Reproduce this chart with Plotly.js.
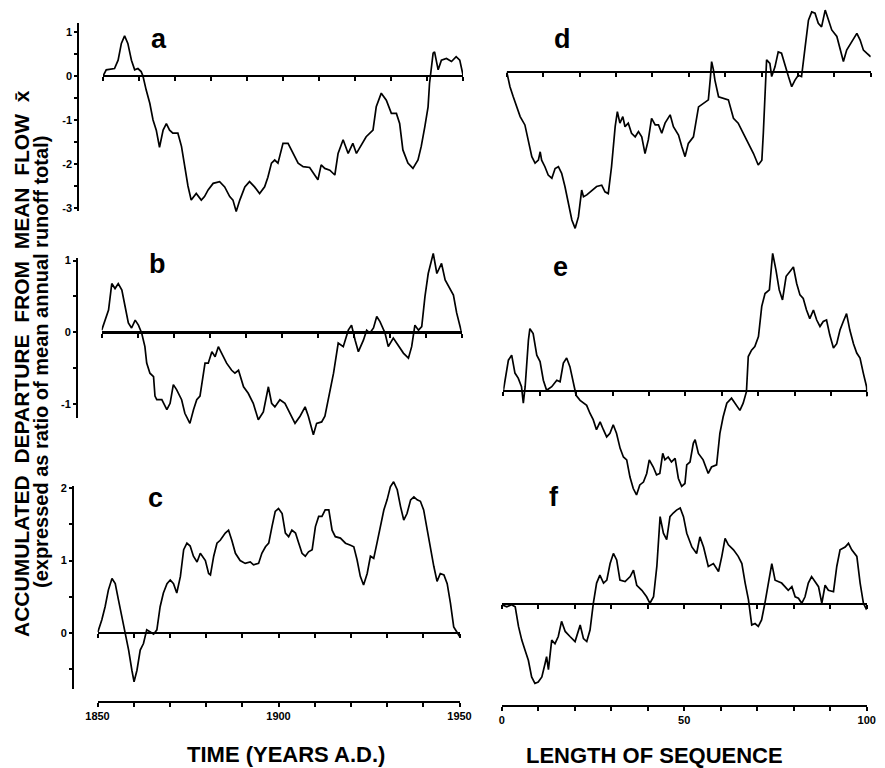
<!DOCTYPE html>
<html><head><meta charset="utf-8">
<script src="https://cdn.plot.ly/plotly-3.0.1.min.js"></script>
<style>html,body{margin:0;padding:0;background:#fff}#chart{width:885px;height:768px}</style>
</head><body><div id="chart"></div>
<script>
// ---------- DATA ----------
const yearsA = [1850.0,1850.9,1853.2,1854.2,1855.1,1856.0,1856.9,1857.9,1858.8,1859.7,1860.6,1861.1,1862.0,1863.0,1863.9,1864.8,1865.7,1866.7,1867.6,1868.5,1869.4,1870.8,1871.8,1872.7,1873.6,1874.5,1875.9,1877.3,1878.2,1879.2,1880.6,1882.4,1883.8,1885.2,1886.1,1887.0,1888.0,1889.4,1890.7,1892.1,1893.5,1894.9,1895.8,1896.8,1897.7,1898.6,1900.0,1901.4,1902.8,1904.2,1905.6,1907.4,1908.8,1909.7,1910.6,1911.6,1913.0,1914.4,1915.3,1916.7,1918.1,1919.4,1920.4,1921.8,1923.1,1925.0,1925.9,1927.3,1928.7,1930.1,1931.5,1932.4,1933.3,1934.7,1936.1,1937.5,1938.4,1939.4,1940.3,1940.7,1941.2,1941.7,1942.1,1943.1,1944.0,1945.4,1946.8,1948.1,1949.1,1950.0];
const valuesA = [0,0.14,0.17,0.36,0.74,0.91,0.74,0.36,0.14,0.17,0.10,0,-0.32,-0.62,-1.0,-1.23,-1.62,-1.23,-1.08,-1.23,-1.3,-1.3,-1.6,-2.06,-2.5,-2.82,-2.67,-2.82,-2.74,-2.59,-2.44,-2.4,-2.52,-2.74,-2.82,-3.08,-2.82,-2.52,-2.4,-2.52,-2.67,-2.52,-2.3,-1.98,-1.91,-1.98,-1.53,-1.53,-1.76,-1.98,-2.06,-2.08,-2.25,-2.36,-2.02,-2.1,-2.14,-2.25,-1.76,-1.45,-1.76,-1.53,-1.76,-1.55,-1.38,-1.23,-0.7,-0.39,-0.55,-0.85,-0.85,-1.08,-1.68,-1.98,-2.1,-1.91,-1.6,-1.15,-0.7,-0.17,0.21,0.52,0.55,0.14,0.36,0.40,0.33,0.44,0.36,0.02];

const yearsB = [1850.0,1850.9,1851.9,1852.8,1853.7,1854.6,1855.6,1856.5,1857.4,1858.3,1859.3,1860.2,1861.1,1862.0,1862.5,1863.4,1864.4,1864.8,1865.3,1866.7,1868.1,1869.0,1869.9,1870.8,1872.2,1873.1,1874.5,1875.5,1876.4,1877.3,1877.8,1878.7,1879.6,1880.6,1881.5,1882.4,1883.3,1884.7,1886.1,1887.0,1888.0,1889.4,1890.7,1892.1,1893.5,1894.9,1896.3,1897.2,1898.1,1899.5,1900.9,1902.3,1903.7,1905.1,1906.5,1907.4,1908.8,1909.7,1911.1,1912.0,1913.0,1914.4,1915.7,1917.1,1918.5,1919.4,1920.4,1921.3,1922.7,1923.6,1924.5,1925.5,1926.4,1927.3,1928.7,1929.6,1931.0,1932.4,1933.8,1935.2,1936.1,1937.0,1938.0,1938.9,1939.8,1940.7,1942.1,1943.1,1944.0,1944.4,1945.4,1946.8,1947.7,1948.6,1950.0];
const valuesB = [0.03,0.17,0.31,0.68,0.61,0.68,0.59,0.36,0.13,0.06,0.17,0.10,-0.01,-0.2,-0.43,-0.57,-0.62,-0.89,-0.94,-0.94,-1.08,-0.99,-0.73,-0.8,-0.94,-1.13,-1.27,-1.08,-0.94,-0.89,-0.71,-0.43,-0.43,-0.27,-0.34,-0.2,-0.29,-0.43,-0.53,-0.57,-0.53,-0.76,-0.85,-0.99,-1.22,-1.11,-0.76,-0.99,-1.04,-0.94,-0.99,-1.13,-1.27,-1.17,-1.04,-1.17,-1.43,-1.27,-1.25,-1.17,-0.94,-0.57,-0.15,-0.2,0.03,0.10,-0.11,-0.27,-0.11,0.03,-0.01,0.06,0.22,0.15,-0.01,-0.2,-0.08,-0.18,-0.29,-0.36,-0.2,0.10,0.03,0.08,0.5,0.82,1.10,0.82,0.92,0.96,0.73,0.59,0.52,0.27,-0.01];

const yearsC = [1850.1,1851.2,1852.1,1853.0,1854.0,1854.9,1855.8,1856.7,1857.6,1858.6,1859.5,1860.1,1860.9,1861.8,1862.7,1863.6,1864.6,1865.5,1866.4,1867.3,1868.2,1869.2,1870.1,1871.0,1871.9,1872.9,1873.8,1874.7,1875.6,1876.5,1877.5,1878.4,1879.8,1880.7,1881.2,1882.1,1883.0,1883.9,1885.3,1886.2,1887.1,1888.1,1889.4,1890.8,1892.2,1893.1,1894.5,1895.4,1896.4,1897.3,1898.2,1899.1,1900.0,1901.0,1901.9,1902.8,1903.7,1904.7,1905.6,1906.5,1907.4,1908.3,1909.3,1910.2,1911.1,1912.0,1912.9,1913.9,1914.8,1915.7,1917.1,1918.5,1919.9,1920.8,1921.7,1922.6,1923.5,1924.5,1925.4,1926.3,1927.2,1928.2,1929.1,1930.0,1930.9,1931.8,1932.8,1933.7,1934.6,1935.5,1936.5,1937.4,1938.3,1939.2,1940.1,1941.1,1942.0,1942.9,1943.8,1944.7,1945.7,1946.6,1947.5,1948.4,1949.4,1950.0];
const valuesC = [0.01,0.18,0.36,0.59,0.75,0.68,0.45,0.22,0.04,-0.24,-0.52,-0.68,-0.52,-0.24,-0.15,0.04,0.01,-0.02,0.04,0.36,0.55,0.68,0.73,0.68,0.55,0.78,1.15,1.24,1.2,1.06,0.98,1.1,1.0,0.82,0.8,1.06,1.24,1.28,1.38,1.42,1.28,1.1,1.0,0.96,0.98,0.94,0.96,1.1,1.19,1.24,1.47,1.68,1.72,1.65,1.38,1.33,1.42,1.38,1.24,1.1,1.06,1.12,1.15,1.47,1.61,1.61,1.7,1.7,1.42,1.33,1.31,1.24,1.21,1.19,1.01,0.78,0.66,0.82,1.06,1.03,1.24,1.49,1.7,1.84,2.02,2.09,1.98,1.75,1.56,1.65,1.84,1.88,1.84,1.82,1.7,1.42,1.15,0.92,0.71,0.82,0.8,0.68,0.41,0.08,0,-0.05];

const seqD = [0,0.9,1.8,2.7,3.7,5.0,6.0,6.9,7.8,8.7,9.2,9.6,10.5,11.4,12.4,13.3,14.2,15.1,16.0,16.9,17.9,18.8,19.7,20.6,21.1,22.0,23.4,24.7,26.1,27.0,27.9,28.8,29.8,30.4,31.1,31.9,32.5,33.4,34.3,35.3,36.2,37.1,38.0,38.9,39.8,40.8,41.7,42.6,43.5,44.9,45.8,47.2,48.1,49.0,49.9,51.3,52.7,54.0,55.4,55.9,56.3,56.8,57.2,58.2,59.5,60.9,62.3,63.6,65.0,66.4,67.8,69.1,70.1,70.5,71.0,71.4,72.3,72.8,73.7,74.6,75.5,76.5,77.4,78.3,79.2,80.1,81.0,82.0,82.9,83.8,84.7,85.6,86.5,87.5,88.4,89.3,90.7,91.6,92.5,93.4,94.8,96.2,97.1,98.0,98.9,100.0];
const valuesD = [0,-0.34,-0.57,-0.8,-1.02,-1.21,-1.63,-1.93,-2.08,-2.01,-1.82,-2.01,-2.16,-2.35,-2.42,-2.2,-2.16,-2.31,-2.61,-2.99,-3.37,-3.56,-3.3,-2.69,-2.84,-2.8,-2.69,-2.61,-2.58,-2.73,-2.77,-2.16,-1.25,-0.91,-1.17,-1.02,-1.25,-1.17,-1.4,-1.48,-1.36,-1.48,-1.86,-1.55,-1.06,-1.21,-1.21,-1.4,-1.17,-0.98,-1.25,-1.44,-1.7,-1.93,-1.63,-1.48,-0.8,-0.72,-0.64,-0.19,0.23,0.04,-0.19,-0.57,-0.61,-0.64,-1.06,-1.17,-1.4,-1.63,-1.86,-2.12,-2.01,-1.4,-0.34,0.27,0.19,-0.11,0.11,0.45,0.42,0.11,-0.11,-0.34,-0.19,-0.08,-0.11,0.57,1.17,1.36,1.33,1.1,1.02,1.4,1.17,0.95,0.8,0.49,0.23,0.49,0.68,0.87,0.72,0.49,0.42,0.34];

const seqE = [0,0.5,1.4,2.3,3.2,4.1,5.0,5.5,6.0,6.9,7.3,8.2,9.2,10.1,11.0,11.9,13.3,14.7,15.6,16.5,17.4,18.3,19.2,20.0,21.1,22.9,23.8,24.7,25.6,26.6,27.5,28.4,29.3,30.2,31.1,32.1,33.0,33.9,34.8,35.7,36.6,37.5,38.5,39.4,40.1,41.2,42.1,43.0,43.8,44.4,45.3,46.2,47.2,48.1,49.0,49.9,50.4,51.3,52.2,52.7,53.6,54.9,56.3,57.2,58.6,59.5,60.4,61.4,62.7,63.6,65.0,65.9,66.8,67.3,68.2,69.1,70.1,71.0,71.9,73.1,74.0,74.9,75.8,76.7,77.7,78.8,79.7,80.6,81.5,82.4,83.3,84.2,85.2,86.1,87.0,87.9,88.8,89.7,90.7,91.6,92.5,93.4,94.3,95.2,96.2,97.1,98.0,98.9,99.8,100.0];
const valuesE = [0,0.15,0.43,0.5,0.25,0.18,0.06,-0.17,0.06,0.71,0.87,0.8,0.5,0.41,0.15,0.01,0.06,0.15,0.13,0.39,0.46,0.34,0.15,-0.06,-0.13,-0.2,-0.31,-0.4,-0.54,-0.43,-0.54,-0.64,-0.59,-0.47,-0.59,-0.8,-0.92,-0.96,-1.2,-1.36,-1.45,-1.31,-1.27,-1.15,-0.96,-1.06,-1.17,-1.15,-0.87,-0.96,-0.92,-0.99,-0.94,-1.22,-1.33,-1.29,-1.03,-0.99,-0.73,-0.68,-0.87,-0.96,-1.15,-1.06,-1.03,-0.59,-0.36,-0.17,-0.1,-0.17,-0.27,-0.17,-0.01,0.48,0.57,0.62,0.76,1.18,1.36,1.41,1.92,1.69,1.41,1.27,1.6,1.67,1.73,1.5,1.34,1.29,1.13,1.01,1.13,0.99,0.9,0.97,0.99,0.78,0.6,0.66,0.85,0.97,1.08,0.85,0.66,0.53,0.46,0.25,0.06,-0.08];

const seqF = [0,1.4,2.7,3.7,4.6,5.5,6.4,7.3,8.2,9.1,10.0,11.0,11.9,12.3,12.8,13.2,13.7,14.6,15.5,16.4,17.4,18.7,20.1,21.5,22.4,23.3,24.2,25.1,26.0,26.9,27.9,28.8,29.7,30.6,31.5,32.4,33.8,35.2,36.1,37.0,38.4,39.7,40.6,41.6,42.5,43.4,44.3,45.2,46.1,47.0,47.9,48.9,49.8,50.7,52.1,53.4,54.3,55.3,56.6,58.0,59.4,60.3,61.2,62.1,63.5,64.8,65.8,66.7,67.6,68.5,69.4,70.3,71.2,72.1,73.1,74.0,74.9,75.8,76.7,77.6,78.5,79.5,80.4,81.3,82.2,83.1,84.0,84.9,85.8,86.8,87.7,88.6,89.5,90.9,91.8,92.7,94.1,95.0,95.9,97.3,98.2,99.1,100.0];
const valuesF = [-0.01,-0.04,-0.01,-0.04,-0.31,-0.5,-0.64,-0.78,-1.01,-1.1,-1.08,-1.01,-0.82,-0.73,-0.91,-0.73,-0.5,-0.55,-0.45,-0.24,-0.38,-0.45,-0.52,-0.29,-0.48,-0.52,-0.36,0.01,0.29,0.4,0.29,0.33,0.56,0.7,0.61,0.33,0.31,0.38,0.47,0.26,0.19,0.1,0.01,0.1,0.52,1.21,0.98,0.89,1.21,1.26,1.3,1.33,1.21,0.98,0.79,0.7,0.93,0.79,0.52,0.56,0.45,0.66,0.91,0.82,0.75,0.66,0.56,0.29,0.06,-0.29,-0.27,-0.31,-0.22,0.01,0.29,0.56,0.33,0.31,0.29,0.24,0.19,0.24,0.1,0.08,0.01,0.1,0.29,0.38,0.31,0.24,0.01,0.26,0.19,0.17,0.52,0.75,0.79,0.84,0.75,0.66,0.29,0.01,-0.08];

const panelLetters = ['a','b','c','d','e','f'];
const yTickValsA = [1,0.5,0,-0.5,-1,-1.5,-2,-2.5,-3];  const yTickTextA = ['1','','0','','-1','','-2','','-3'];
const yTickValsB = [1,0.5,0,-0.5,-1];                   const yTickTextB = ['1','','0','','-1'];
const yTickValsC = [2,1.5,1,0.5,0,-0.5];                const yTickTextC = ['2','','1','','0',''];
const timeTickVals = [1850,1860,1870,1880,1890,1900,1910,1920,1930,1940,1950];
const timeTickText = ['1850','','','','','1900','','','','','1950'];
const seqTickVals = [0,10,20,30,40,50,60,70,80,90,100];
const seqTickText = ['0','','','','','50','','','','','100'];
const xTitleLeft = 'TIME (YEARS A.D.)';
const xTitleRight = 'LENGTH OF SEQUENCE';
const yTitle1 = 'ACCUMULATED\u00a0 DEPARTURE\u00a0 FROM\u00a0 MEAN\u00a0 FLOW\u00a0 x\u0304';
const yTitle2 = '(expressed as ratio of mean annual runoff total)';

// ---------- LAYOUT (pixel geometry of the figure) ----------
const W = 885, H = 768;
const px = p => p / W;
const py = p => 1 - p / H;
const FONT = 'Liberation Sans, Arial, sans-serif';

const geo = [
  {x:[103,463],    zero:76,    ppu:44,   range:[-3.2,1.25], xr:[1850,1950], axisX:78.3, axisPx:[23,211],  tv:yTickValsA, tt:yTickTextA},
  {x:[101.7,461.7],zero:332.3, ppu:71.7, range:[-1.5,1.2],  xr:[1850,1950], axisX:77,   axisPx:[258,418], tv:yTickValsB, tt:yTickTextB},
  {x:[97.5,459.5], zero:632.7, ppu:72.2, range:[-0.8,2.2],  xr:[1850,1950], axisX:73,   axisPx:[486,689], tv:yTickValsC, tt:yTickTextC},
  {x:[506.7,870.7],zero:71.7,  ppu:44,   range:[-3.7,1.6],  xr:[0,100]},
  {x:[503.3,867.3],zero:391,   ppu:71.7, range:[-1.55,2.0], xr:[0,100]},
  {x:[501.7,866.7],zero:604,   ppu:72.2, range:[-1.2,1.45], xr:[0,100]}
];
const series = [[yearsA,valuesA],[yearsB,valuesB],[yearsC,valuesC],[seqD,valuesD],[seqE,valuesE],[seqF,valuesF]];

const layout = {
  width: W, height: H,
  margin: {l:0, r:0, t:0, b:0, pad:0},
  paper_bgcolor: '#ffffff', plot_bgcolor: 'rgba(0,0,0,0)',
  showlegend: false,
  font: {family: FONT, color: '#000'},
  annotations: []
};
const traces = [];

geo.forEach((g, i) => {
  const n = i + 1;
  const top = g.zero - g.range[1] * g.ppu, bot = g.zero - g.range[0] * g.ppu;
  const isTime = i < 3;
  layout['xaxis' + n] = {
    domain: [px(g.x[0]), px(g.x[1])], range: g.xr, anchor: 'free', position: py(g.zero),
    showline: true, linewidth: 2.2, linecolor: '#000',
    showgrid: false, zeroline: false, fixedrange: true, showticklabels: false,
    tickmode: 'array', tickvals: isTime ? timeTickVals : seqTickVals,
    ticks: 'outside', ticklen: 4, tickwidth: 2, tickcolor: '#000'
  };
  layout['yaxis' + n] = {
    domain: [py(bot), py(top)], range: g.range, visible: false, fixedrange: true
  };
  traces.push({
    x: series[i][0], y: series[i][1], xaxis: 'x' + n, yaxis: 'y' + n,
    mode: 'lines', line: {color: '#000', width: 1.7}, hoverinfo: 'skip'
  });
  if (g.axisX) {
    const m = 7 + i;
    const hi = (g.zero - g.axisPx[0]) / g.ppu, lo = (g.zero - g.axisPx[1]) / g.ppu;
    layout['yaxis' + m] = {
      domain: [py(g.axisPx[1]), py(g.axisPx[0])], range: [lo, hi], anchor: 'free', position: px(g.axisX),
      showline: true, linewidth: 2, linecolor: '#000', showgrid: false, zeroline: false, fixedrange: true,
      tickmode: 'array', tickvals: g.tv, ticktext: g.tt, ticks: 'outside', ticklen: 3, tickwidth: 2, tickcolor: '#000',
      tickfont: {family: FONT, size: 11, color: '#000', weight: 'bold'}
    };
    traces.push({x: [], y: [], xaxis: 'x' + n, yaxis: 'y' + m, mode: 'lines', hoverinfo: 'skip'});
  }
});

const bottomAxis = (base, g, pos, tv, tt) => ({
  domain: [px(g.x[0]), px(g.x[1])], range: g.xr, overlaying: base, anchor: 'free', position: py(pos),
  showline: true, linewidth: 2, linecolor: '#000', showgrid: false, zeroline: false, fixedrange: true,
  tickmode: 'array', tickvals: tv, ticktext: tt, ticks: 'outside', ticklen: 4, tickwidth: 2, tickcolor: '#000',
  tickfont: {family: FONT, size: 11, color: '#000', weight: 'bold'}
});
layout.xaxis7 = bottomAxis('x3', geo[2], 702, timeTickVals, timeTickText);
layout.xaxis8 = bottomAxis('x6', geo[5], 706, seqTickVals, seqTickText);
traces.push({x: [], y: [], xaxis: 'x7', yaxis: 'y3', mode: 'lines', hoverinfo: 'skip'});
traces.push({x: [], y: [], xaxis: 'x8', yaxis: 'y6', mode: 'lines', hoverinfo: 'skip'});

const letterPos = [[159,39],[157,264],[155,498],[562,39],[560,267],[554,497]];
panelLetters.forEach((t, i) => {
  layout.annotations.push({
    text: '<b>' + t + '</b>', xref: 'paper', yref: 'paper', x: px(letterPos[i][0]), y: py(letterPos[i][1]),
    xanchor: 'center', yanchor: 'middle', showarrow: false, font: {family: FONT, size: 27, color: '#000'}
  });
});
layout.annotations.push(
  {text: '<b>' + xTitleLeft + '</b>', xref: 'paper', yref: 'paper', x: px(286), y: py(754), xanchor: 'center', yanchor: 'middle', showarrow: false, font: {family: FONT, size: 22, color: '#000'}},
  {text: '<b>' + xTitleRight + '</b>', xref: 'paper', yref: 'paper', x: px(654), y: py(755), xanchor: 'center', yanchor: 'middle', showarrow: false, font: {family: FONT, size: 22, color: '#000'}},
  {text: '<b>' + yTitle1 + '</b>', xref: 'paper', yref: 'paper', x: px(22), y: py(364), xanchor: 'center', yanchor: 'middle', textangle: -90, showarrow: false, font: {family: FONT, size: 21, color: '#000'}},
  {text: '<b>' + yTitle2 + '</b>', xref: 'paper', yref: 'paper', x: px(41), y: py(362), xanchor: 'center', yanchor: 'middle', textangle: -90, showarrow: false, font: {family: FONT, size: 20, color: '#000'}}
);

Plotly.newPlot('chart', traces, layout, {staticPlot: true, displayModeBar: false});
</script>
</body></html>
